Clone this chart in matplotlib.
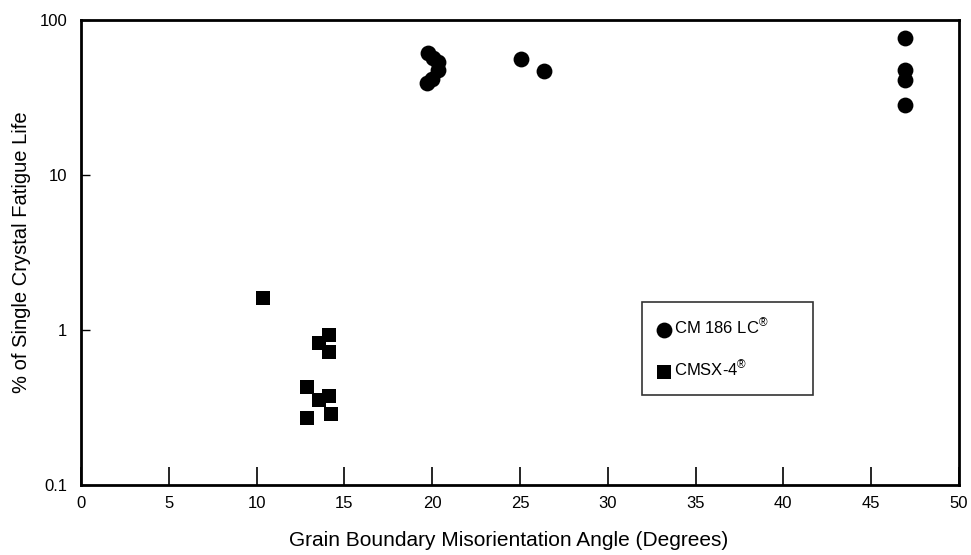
import matplotlib
matplotlib.use("Agg")
import matplotlib.pyplot as plt
from matplotlib.ticker import FixedLocator, FixedFormatter, NullLocator

plt.rcParams['font.family'] = ['Liberation Sans', 'DejaVu Sans']
plt.rcParams['mathtext.fontset'] = 'custom'
plt.rcParams['mathtext.rm'] = 'Liberation Sans'

# CM 186 LC (circles)
cm_x = [19.76, 20.05, 20.33, 20.33, 19.99, 19.70, 25.06, 26.37, 46.9, 46.9, 46.9, 46.9]
cm_y = [61.3, 57.0, 53.7, 47.7, 41.7, 39.3, 56.1, 47.0, 76.6, 47.7, 41.1, 28.4]

# CMSX-4 (squares)
sx_x = [10.36, 14.14, 13.57, 14.14, 12.85, 13.57, 14.14, 14.22, 12.88]
sx_y = [1.60, 0.923, 0.828, 0.725, 0.431, 0.354, 0.375, 0.286, 0.269]

xticks = [0, 5, 10, 15, 20, 25, 30, 35, 40, 45, 50]
yticks = [0.1, 1, 10, 100]
ytick_labels = ['0.1', '1', '10', '100']

fig = plt.figure(figsize=(9.71, 5.55), dpi=100)
ax = fig.add_axes([0.0834, 0.1261, 0.9042, 0.8379])

ax.scatter(cm_x, cm_y, s=130, marker='o', color='black', linewidths=0,
           label=r'CM 186 LC$^{\circledR}$', zorder=3)
ax.scatter(sx_x, sx_y, s=110, marker='s', color='black', linewidths=0,
           label=r'CMSX-4$^{\circledR}$', zorder=3)

ax.set_yscale('log')
ax.set_xlim(0, 50)
ax.set_ylim(0.1, 100)
ax.xaxis.set_major_locator(FixedLocator(xticks))
ax.yaxis.set_major_locator(FixedLocator(yticks))
ax.yaxis.set_major_formatter(FixedFormatter(ytick_labels))
ax.yaxis.set_minor_locator(NullLocator())

for s in ax.spines.values():
    s.set_linewidth(2.0)
ax.tick_params(axis='x', direction='in', length=13, width=1.2, pad=8, labelsize=12)
ax.tick_params(axis='y', direction='in', length=6.5, width=1.0, pad=10, labelsize=12)
ax.tick_params(top=False, right=False)

ax.set_xlabel('Grain Boundary Misorientation Angle (Degrees)', fontsize=15)
ax.xaxis.set_label_coords(0.4875, -0.098)
ax.set_ylabel('% of Single Crystal Fatigue Life', fontsize=14.5, labelpad=6)

leg = ax.legend(loc='lower left', bbox_to_anchor=(0.639, 0.194, 0.195, 0.196),
                mode='expand', borderaxespad=0,
                fontsize=12, frameon=True, fancybox=False, edgecolor='black',
                markerscale=1.0, handletextpad=0.2, labelspacing=1.3,
                borderpad=0.9, handlelength=0.8, scatterpoints=1)
leg.get_frame().set_linewidth(1.2)

fig.savefig('out.png', dpi=100)
